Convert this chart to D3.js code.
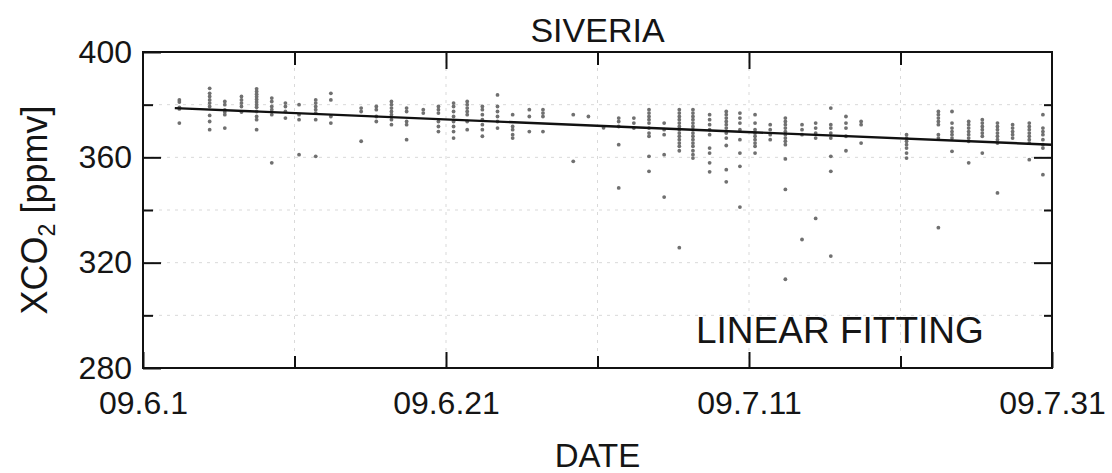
<!DOCTYPE html>
<html>
<head>
<meta charset="utf-8">
<script src="https://cdn.jsdelivr.net/npm/d3@7"></script>
<style>
  html, body { margin: 0; padding: 0; background: #fff; }
  svg { display: block; }
  text { font-family: "Liberation Sans", Arial, Helvetica, sans-serif; fill: #151515; }
</style>
</head>
<body>
<svg id="chart" width="1112" height="473"></svg>
<script>
// Observation days, counted from 09.6.1 (one column of soundings per overpass)
const obsDays = [2.4, 4.4, 5.4, 6.5, 7.5, 8.5, 9.4, 10.3, 11.4, 12.4, 14.4,
  15.4, 16.4, 17.4, 18.5, 19.5, 20.5, 21.4, 22.4, 23.4, 24.4, 25.5, 26.4,
  28.4, 29.4, 30.4, 31.4, 32.4, 33.4, 34.4, 35.4, 36.3, 37.4, 38.5, 39.4,
  40.4, 41.4, 42.4, 43.5, 44.4, 45.4, 46.4, 47.4, 50.4, 52.5, 53.4, 54.5,
  55.4, 56.4, 57.4, 58.5, 59.4];

// XCO2 values [ppmv] of every sounding, one list per observation day
const obsValues = [
  [381.8, 381.0, 379.0, 378.4, 373.0],
  [386.2, 384.3, 383.1, 381.8, 380.6, 379.3, 375.9, 373.6, 370.5],
  [381.2, 380.0, 378.0, 377.2, 376.2, 371.1],
  [383.1, 381.8, 380.6, 379.3, 377.2],
  [386.0, 385.0, 384.0, 383.0, 382.0, 381.0, 380.0, 379.0, 377.4, 375.5, 374.3, 370.5],
  [382.5, 381.2, 379.3, 378.1, 376.2, 357.9],
  [380.6, 379.3, 377.4, 374.9],
  [380.0, 376.2, 374.3, 361.0],
  [381.8, 380.6, 379.3, 378.1, 376.8, 374.3, 360.4],
  [384.3, 381.8, 375.5, 373.0],
  [378.7, 377.4, 366.1],
  [379.3, 378.1, 375.5, 373.6],
  [381.2, 380.0, 378.7, 377.4, 376.2, 374.3, 372.4],
  [378.7, 377.4, 373.6, 372.4, 366.7],
  [378.1, 376.8],
  [379.3, 378.1, 376.8, 373.6, 371.7, 369.8],
  [380.6, 379.3, 377.4, 375.5, 373.6, 371.7, 369.8, 367.3],
  [381.2, 380.0, 378.7, 377.4, 376.2, 373.6, 370.5],
  [379.3, 378.1, 376.2, 374.3, 372.4, 370.5, 368.0],
  [383.7, 379.3, 377.4, 375.5, 373.6, 371.1],
  [376.2, 371.7, 370.5, 368.6, 367.3],
  [378.1, 375.5, 369.8],
  [378.1, 376.8, 375.5, 369.8],
  [376.2, 358.5],
  [375.5],
  [371.2],
  [374.9, 373.6, 371.7, 364.8, 348.4],
  [374.9, 373.0, 371.1],
  [378.1, 376.8, 375.5, 374.3, 373.0, 371.1, 369.2, 368.0, 360.4, 354.7],
  [373.0, 370.5, 368.6, 361.0, 344.9],
  [378.1, 376.8, 375.5, 374.3, 373.0, 371.7, 370.5, 369.2, 368.0, 366.7, 365.4, 364.2, 362.5, 325.7],
  [378.1, 376.8, 375.5, 374.3, 373.0, 371.7, 370.5, 369.2, 368.0, 366.7, 365.4, 364.2, 362.5, 361.0, 359.7],
  [376.2, 374.3, 372.4, 370.5, 368.6, 363.5, 361.6, 357.9, 354.5],
  [377.4, 376.2, 374.9, 373.6, 372.4, 371.1, 369.2, 367.3, 364.5, 355.3, 350.7],
  [376.8, 374.9, 373.0, 370.5, 366.7, 361.6, 356.6, 341.1],
  [376.2, 373.0, 370.5, 369.2, 368.0, 366.7, 365.4, 364.2, 361.6],
  [372.4, 370.5, 368.6, 366.7],
  [374.9, 373.6, 372.4, 371.1, 369.8, 368.6, 367.3, 366.1, 364.8, 359.4, 347.8, 313.7],
  [372.4, 370.5, 368.6, 328.8],
  [373.0, 371.1, 369.2, 367.3, 336.8],
  [378.7, 372.4, 371.1, 369.2, 367.3, 360.4, 354.7, 322.5],
  [375.5, 373.0, 371.1, 368.0, 362.5],
  [373.6, 372.4, 365.4],
  [368.6, 367.3, 366.1, 364.8, 363.5, 361.6, 359.7],
  [377.4, 376.2, 374.9, 373.6, 372.4, 368.6, 367.3, 333.3],
  [377.4, 373.0, 371.1, 369.8, 368.6, 367.3, 362.3],
  [373.6, 372.4, 371.1, 369.8, 368.6, 367.3, 366.1, 357.9],
  [374.3, 373.0, 371.7, 370.5, 369.2, 368.0, 361.6],
  [373.0, 371.7, 370.5, 369.2, 368.0, 366.7, 365.4, 346.5],
  [372.4, 371.1, 369.8, 368.6, 367.3],
  [373.0, 371.7, 370.5, 369.2, 368.0, 366.7, 365.4, 359.1],
  [376.2, 371.1, 369.8, 368.6, 366.7, 364.8, 363.5, 353.4]
];

// Linear fit through the period: end points (day, ppmv)
const fitDays = [2.1, 60];
const fitValues = [378.7, 364.8];

// Axis ticks
const yTicks = [280, 320, 360, 400];
const yMinorTicks = [300, 340, 380];
const xTicks = [0, 20, 40, 60];
const xTickLabels = ["09.6.1", "09.6.21", "09.7.11", "09.7.31"];
const xMinorTicks = [10, 30, 50];
const gridY = [300, 320, 340, 360, 380];
const gridX = [10, 20, 30, 40, 50];

const svg = d3.select("#chart");
const plotL = 143, plotR = 1052, plotT = 52, plotB = 368;

const x = d3.scaleLinear().domain([0, 60]).range([plotL, plotR]);
const y = d3.scaleLinear().domain([280, 400]).range([plotB, plotT]);

// faint dashed grid
const grid = svg.append("g").attr("stroke", "#d9d9d9").attr("stroke-width", 1)
  .attr("stroke-dasharray", "3,5");
grid.selectAll("line.h").data(gridY).join("line").attr("class", "h")
  .attr("x1", plotL).attr("x2", plotR).attr("y1", d => y(d)).attr("y2", d => y(d));
grid.selectAll("line.v").data(gridX).join("line").attr("class", "v")
  .attr("y1", plotT).attr("y2", plotB).attr("x1", d => x(d)).attr("x2", d => x(d));

// soundings
const points = [];
obsDays.forEach((d, i) => obsValues[i].forEach(v => points.push({ d, v })));
svg.append("g").selectAll("circle").data(points).join("circle")
  .attr("cx", p => x(p.d)).attr("cy", p => y(p.v)).attr("r", 1.9)
  .attr("fill", "#707070");

// linear fitting line
const fit = fitDays.map((d, i) => [d, fitValues[i]]);
svg.append("path").datum(fit)
  .attr("d", d3.line().x(p => x(p[0])).y(p => y(p[1])))
  .attr("fill", "none").attr("stroke", "#111").attr("stroke-width", 2.4);

// axes with inward ticks
function styleAxis(g) {
  g.select(".domain").remove();
  g.selectAll(".tick line").attr("stroke", "#111").attr("stroke-width", 2);
  g.selectAll("text").attr("font-size", 32).attr("fill", "#151515")
    .attr("font-family", "\"Liberation Sans\", Arial, sans-serif");
}

svg.append("g").attr("transform", `translate(${plotL},0)`)
  .call(d3.axisLeft(y).tickValues(yTicks).tickSize(-18).tickPadding(11).tickFormat(d3.format("d")))
  .call(styleAxis);
svg.append("g").attr("transform", `translate(${plotL},0)`)
  .call(d3.axisLeft(y).tickValues(yMinorTicks).tickSize(-10).tickFormat(""))
  .call(styleAxis);
svg.append("g").attr("transform", `translate(${plotR},0)`)
  .call(d3.axisRight(y).tickValues(yTicks.slice(1, -1)).tickSize(-18).tickFormat(""))
  .call(styleAxis);
svg.append("g").attr("transform", `translate(${plotR},0)`)
  .call(d3.axisRight(y).tickValues(yMinorTicks).tickSize(-8).tickFormat(""))
  .call(styleAxis);

svg.append("g").attr("transform", `translate(0,${plotB})`)
  .call(d3.axisBottom(x).tickValues(xTicks).tickSize(-16).tickPadding(23)
    .tickFormat((d, i) => xTickLabels[i]))
  .call(styleAxis);
svg.append("g").attr("transform", `translate(0,${plotB})`)
  .call(d3.axisBottom(x).tickValues(xMinorTicks).tickSize(-12).tickFormat(""))
  .call(styleAxis);
svg.append("g").attr("transform", `translate(0,${plotT})`)
  .call(d3.axisTop(x).tickValues(xTicks.slice(1, -1)).tickSize(-17).tickFormat(""))
  .call(styleAxis);
svg.append("g").attr("transform", `translate(0,${plotT})`)
  .call(d3.axisTop(x).tickValues(xMinorTicks).tickSize(-13).tickFormat(""))
  .call(styleAxis);

// frame
svg.append("rect").attr("x", plotL).attr("y", plotT)
  .attr("width", plotR - plotL).attr("height", plotB - plotT)
  .attr("fill", "none").attr("stroke", "#111").attr("stroke-width", 2);

// titles and labels
svg.append("text").attr("x", (plotL + plotR) / 2).attr("y", 42)
  .attr("text-anchor", "middle").attr("font-size", 34).text("SIVERIA");

svg.append("text").attr("x", 696).attr("y", 343)
  .attr("font-size", 37).text("LINEAR FITTING");

svg.append("text").attr("x", (plotL + plotR) / 2).attr("y", 467)
  .attr("text-anchor", "middle").attr("font-size", 33).text("DATE");

const yl = svg.append("text").attr("transform", `translate(47,${(plotT + plotB) / 2}) rotate(-90)`)
  .attr("text-anchor", "middle").attr("font-size", 36);
yl.append("tspan").text("XCO");
yl.append("tspan").attr("font-size", 23).attr("dy", 8).text("2");
yl.append("tspan").attr("dy", -8).text(" [ppmv]");
</script>
</body>
</html>
